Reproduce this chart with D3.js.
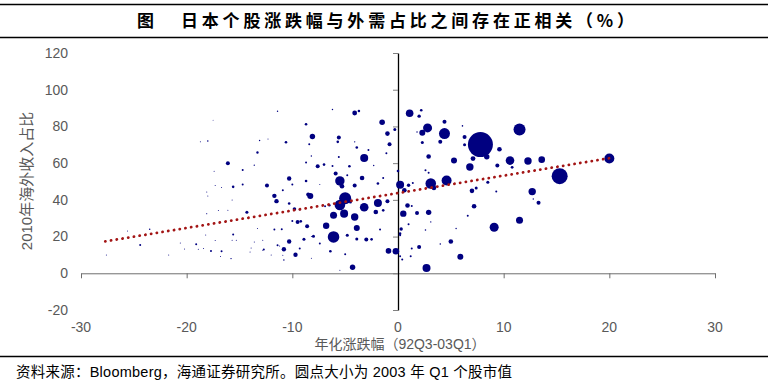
<!DOCTYPE html>
<html>
  <head>
    <meta charset="UTF-8" />
    <title>日本个股涨跌幅与外需占比</title>
    <script src="https://d3js.org/d3.v7.min.js"></script>
    <style>
      body { margin: 0; background: #fff; }
      svg text { font-family: "Liberation Sans", Arial, "Noto Sans CJK SC", sans-serif; }
      .cjk { font-family: "Noto Sans CJK SC", sans-serif; }
    </style>
  </head>
  <body>
    <div id="chart"></div>
    <script>
      // 年化涨跌幅 (x), 2010年海外收入占比 (y), 2003Q1 市值 (圆点大小)
      var retX = [
        7.8, 11.5, 9.6, 8.4, 10.6, 12.3, 13.6, 9.4, 10.8, 20.0, 15.3, 8.5, 9.3, 12.7, 12.8, 13.3, 11.5, 9.1,
        6.3, 6.3, 7.1, 6.8, 7.0, 7.4, 7.2, 6.6, 5.9, 6.1, 1.1, 2.2, 2.0, 2.8, 2.3, 4.4, 4.4, 4.0, 2.3, 1.8,
        2.9, 5.3, -0.3, 0.0, 2.6, 2.9, 0.2, 1.0, 1.4, 0.6, 3.1, 3.4, 4.6, 0.9, 1.3, 0.5, 1.8, 2.9, 3.1,
        1.0, 0.3, 0.2, 2.6, 5.5, 5.0, 4.0, 2.0, 1.3, -0.2, 0.2, 0.4, 1.2, 2.7,
        -4.1, -3.7, -6.2, -1.5, -1.0, -5.6, -5.7, -4.1, -0.8, -3.9, -2.8, -1.1, -5.6, -3.2, -7.6, -7.0,
        -6.2, -4.6, -2.3, -5.9, -4.8, -3.4, -1.4, -5.5, -5.3, -4.1, -1.9, -5.0, -5.5, -3.2, -1.9, -1.0,
        -6.5, -6.9, -4.5, -5.1, -6.1, -2.1, -1.4, -4.1, -6.8, -3.9, -6.1, -4.8, -1.7, -3.9, -3.0, -2.5,
        0.2, -7.4, -6.4, -5.0, -0.9, -4.3,
        -11.4, -8.7, -8.1, -10.6, -8.4, -13.1, -13.3, -8.2, -8.7, -16.1, -13.6, -14.7, -10.3, -8.7, -15.6,
        -14.7, -12.4, -10.0, -10.9, -11.7, -11.5, -8.5, -8.3, -10.3, -9.8, -14.3, -9.3, -9.5, -9.2, -8.6,
        -10.0, -11.0, -11.7, -8.9, -8.0, -10.3, -15.6, -11.4, -10.8, -9.7, -9.3, -10.8, -12.7,
        -18.0, -23.5, -24.4, -19.1, -17.7, -16.7, -15.8,
        -18.7, -17.4, -17.3, -16.7, -18.1, -18.0, -15.7, -18.1, -17.0, -16.1, -25.6, -18.2, -17.3, -15.7,
        -20.6, -20.2, -18.9, -18.4, -21.7, -27.6, -16.8, -12.3, -13.9, -15.3, -12.8, -12.8, -12.0, -13.6,
        -8.2, -11.2, -10.9, -14.0, -8.2, -13.3, -17.5, -7.4, -5.5
      ];
      var shareY = [
        70.1, 78.3, 67.6, 63.5, 61.4, 61.2, 61.9, 58.7, 57.7, 62.5, 52.9, 49.6, 44.6, 44.5, 40.5, 38.4, 28.9, 25.1,
        74.3, 70.0, 62.5, 57.9, 44.9, 46.5, 36.5, 31.4, 9.0, 80.3, 87.2, 88.8, 85.6, 79.2, 76.5, 82.5, 76.1, 71.6, 71.2, 77.0,
        63.6, 61.4, 78.3, 55.7, 56.1, 54.7, 48.2, 48.0, 49.2, 45.2, 48.9, 46.5, 50.5, 36.9, 36.7, 32.5, 32.9, 33.2, 28.0,
        26.7, 24.1, 21.6, 23.6, 24.4, 17.3, 16.0, 14.3, 13.5, 12.0, 9.3, 7.5, 9.3, 2.9,
        87.3, 88.4, 89.2, 82.3, 76.1, 74.0, 71.6, 71.6, 70.3, 68.5, 67.2, 65.4, 63.4, 62.8, 58.3, 59.2,
        58.5, 58.3, 58.7, 54.3, 53.4, 51.9, 51.9, 50.3, 47.4, 47.8, 48.9, 40.9, 37.2, 36.0, 38.3, 39.2,
        37.1, 36.5, 38.9, 32.5, 31.6, 33.4, 34.3, 30.7, 25.9, 24.7, 19.8, 20.7, 23.8, 18.7, 18.4, 18.5,
        20.7, 16.2, 12.0, 10.4, 12.2, 3.3,
        88.3, 81.2, 74.5, 71.4, 70.3, 72.3, 65.8, 63.9, 60.3, 59.9, 58.9, 56.3, 51.6, 50.3, 47.1,
        48.3, 47.8, 48.3, 45.2, 42.2, 39.3, 42.9, 42.1, 38.0, 35.0, 33.2, 34.7, 28.0, 28.3, 25.6,
        28.5, 24.0, 23.8, 18.5, 20.2, 17.3, 21.1, 15.3, 13.1, 10.1, 13.5, 7.2, 12.9,
        72.1, 24.0, 15.4, 15.8, 12.2, 12.0, 8.0,
        71.7, 55.6, 47.8, 46.7, 44.3, 42.1, 39.9, 32.5, 34.2, 34.3, 23.1, 20.9, 17.8, 18.0,
        16.5, 13.2, 13.1, 13.5, 10.0, 10.0, 9.1, 73.2, 13.8, 18.0, 18.0, 12.5, 10.0, 17.1,
        8.2, 14.9, 9.8, 11.6, 20.0, 24.4, 83.4, 48.3, 1.6
      ];
      var mktCap = [
        1560, 360, 53, 73, 185, 137, 109, 40, 20, 250, 640, 23, 10, 137, 5, 40, 123, 203,
        40, 23, 58, 137, 53, 23, 53, 10, 90, 6, 144, 17, 29, 203, 90, 40, 302, 40, 23, 5,
        53, 90, 23, 17, 10, 10, 160, 29, 10, 53, 281, 53, 250, 53, 10, 102, 40, 73, 5,
        10, 29, 17, 6, 5, 53, 6, 40, 10, 109, 10, 10, 10, 160,
        58, 17, 5, 78, 53, 40, 17, 5, 40, 17, 10, 10, 10, 160, 40, 17,
        10, 17, 5, 40, 10, 53, 10, 221, 53, 40, 17, 360, 281, 185, 160, 40,
        17, 10, 23, 160, 123, 53, 17, 137, 102, 90, 336, 23, 10, 23, 40, 17,
        10, 10, 17, 10, 78, 73,
        5, 17, 73, 17, 10, 5, 14, 5, 10, 40, 5, 10, 48, 17, 17,
        10, 40, 10, 10, 48, 48, 40, 90, 17, 32, 23, 10, 40, 17, 40,
        10, 10, 10, 23, 23, 48, 10, 10, 48, 48, 10, 6, 10,
        6, 6, 10, 10, 10, 10, 5,
        2.5, 2.5, 2.5, 2.5, 2.5, 2.5, 2.5, 2.5, 2.5, 2.5, 2.5, 2.5, 2.5, 2.5,
        2.5, 2.5, 2.5, 2.5, 2.5, 2.5, 2.5, 2.5, 2.5, 2.5, 2.5, 2.5, 2.5, 2.5,
        2.5, 2.5, 2.5, 2.5, 2.5, 2.5, 2, 2.5, 2.5
      ];

      var xTicks = [-30, -20, -10, 0, 10, 20, 30];
      var yTicks = [-20, 0, 20, 40, 60, 80, 100, 120];

      // 线性趋势线
      var trendX = [-27.7, 20.0];
      var trendSlope = 0.95, trendIntercept = 43.7;

      var width = 768, height = 382;

      var svg = d3.select("#chart").append("svg")
        .attr("width", width)
        .attr("height", height);

      // 标题
      svg.append("line").attr("x1", 0).attr("x2", width).attr("y1", 4.5).attr("y2", 4.5)
        .attr("stroke", "#000").attr("stroke-width", 1.5);
      svg.append("line").attr("x1", 0).attr("x2", width).attr("y1", 37.5).attr("y2", 37.5)
        .attr("stroke", "#000").attr("stroke-width", 1.5);
      svg.append("text").attr("class", "cjk")
        .attr("x", 137).attr("y", 27)
        .attr("font-size", 17).attr("font-weight", "bold")
        .text("图");
      svg.append("text").attr("class", "cjk")
        .attr("x", 181).attr("y", 27)
        .attr("font-size", 17).attr("font-weight", "bold")
        .attr("textLength", 453).attr("lengthAdjust", "spacing")
        .text("日本个股涨跌幅与外需占比之间存在正相关（%）");

      // 比例尺
      var x = d3.scaleLinear().domain([-30, 30]).range([81, 715]);
      var y = d3.scaleLinear().domain([-20, 120]).range([310, 53]);
      var r = d3.scaleSqrt().domain([0, 1560]).range([0, 12.5]);

      // 坐标轴（横轴在 y=0，纵轴在 x=0）
      var xAxis = svg.append("g")
        .attr("transform", "translate(0," + y(0) + ")")
        .call(d3.axisBottom(x).tickValues(xTicks).tickSize(5).tickSizeOuter(0).tickFormat(""));
      xAxis.select(".domain").attr("stroke", "#6e6e6e");
      xAxis.selectAll(".tick line").attr("stroke", "#6e6e6e");

      var yAxis = svg.append("g")
        .attr("transform", "translate(" + x(0) + ",0)")
        .call(d3.axisLeft(y).tickValues(yTicks).tickSize(5).tickSizeOuter(0).tickFormat(""));
      yAxis.select(".domain").attr("stroke", "#000").attr("stroke-width", 1.3);
      yAxis.selectAll(".tick line").attr("stroke", "#808080");

      // 刻度标签（贴在图区左侧和底部）
      svg.append("g").selectAll("text")
        .data(yTicks).enter().append("text")
        .attr("x", 68).attr("y", (d) => y(d)).attr("dy", "0.35em")
        .attr("text-anchor", "end")
        .attr("font-size", 14).attr("fill", "#595959")
        .text((d) => d);

      svg.append("g").selectAll("text")
        .data(xTicks).enter().append("text")
        .attr("x", (d) => x(d)).attr("y", 327).attr("dy", "0.35em")
        .attr("text-anchor", "middle")
        .attr("font-size", 14).attr("fill", "#595959")
        .text((d) => d);

      // 轴标题
      svg.append("text")
        .attr("x", 400).attr("y", 344).attr("dy", "0.35em")
        .attr("text-anchor", "middle")
        .attr("font-size", 14).attr("fill", "#595959")
        .text("年化涨跌幅（92Q3-03Q1）");

      svg.append("text")
        .attr("transform", "translate(27,181) rotate(-90)")
        .attr("dy", "0.35em")
        .attr("text-anchor", "middle")
        .attr("font-size", 15).attr("fill", "#595959")
        .text("2010年海外收入占比");

      // 散点（大的先画）
      var points = retX.map((d, i) => ({ x: d, y: shareY[i], cap: mktCap[i] }));
      points.sort((a, b) => b.cap - a.cap);

      svg.append("g").selectAll("circle")
        .data(points).enter().append("circle")
        .attr("cx", (d) => x(d.x))
        .attr("cy", (d) => y(d.y))
        .attr("r", (d) => r(d.cap))
        .attr("fill", "#000080");

      // 趋势线（圆点虚线）
      svg.append("path")
        .datum(trendX)
        .attr("d", d3.line()
          .x((d) => x(d))
          .y((d) => y(trendIntercept + trendSlope * d)))
        .attr("fill", "none")
        .attr("stroke", "#a31515")
        .attr("stroke-width", 2.8)
        .attr("stroke-linecap", "round")
        .attr("stroke-dasharray", "0.1 5.7");

      // 资料来源
      svg.append("line").attr("x1", 0).attr("x2", width).attr("y1", 356.5).attr("y2", 356.5)
        .attr("stroke", "#000").attr("stroke-width", 1.5);
      svg.append("text")
        .attr("x", 16).attr("y", 372).attr("dy", "0.35em")
        .attr("font-size", 14.5)
        .attr("textLength", 496).attr("lengthAdjust", "spacing")
        .text("资料来源：Bloomberg，海通证券研究所。圆点大小为 2003 年 Q1 个股市值");
    </script>
  </body>
</html>
